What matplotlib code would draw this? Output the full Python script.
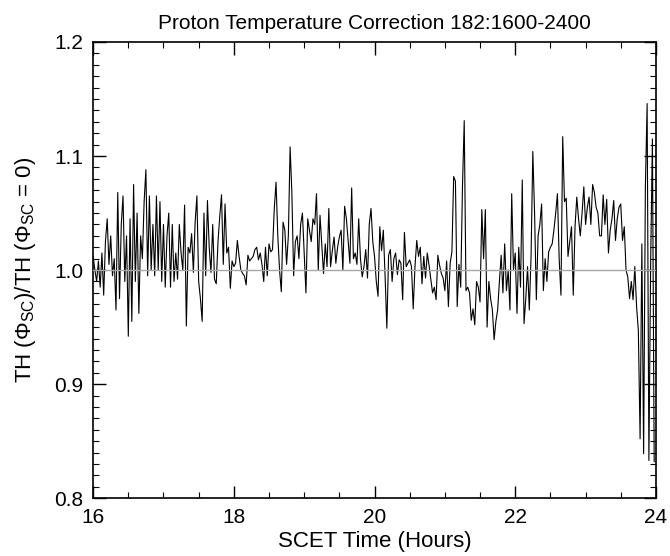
import numpy as np
import matplotlib
matplotlib.use("Agg")
import matplotlib.pyplot as plt
from matplotlib.ticker import MultipleLocator, FormatStrFormatter

plt.rcParams['font.family'] = ['Liberation Sans', 'DejaVu Sans']
plt.rcParams['mathtext.default'] = 'regular'

step = 0.025
seg_starts = [16.0, 17.225, 18.4, 19.65, 20.85, 22.075, 23.225]

seg_a = [1.012, 1.000, 0.990, 1.008, 0.985, 1.015, 0.978, 1.025, 1.045, 1.005,
         1.030, 0.995, 1.010, 0.965, 1.068, 0.975, 1.040, 1.065, 0.990, 1.030,
         0.942, 1.045, 0.955, 1.075, 0.990, 1.050, 0.962, 1.030, 1.010, 1.060,
         1.088, 0.995, 1.065, 1.000, 1.040, 0.995, 1.065, 1.000, 1.060, 0.990,
         1.040, 0.985, 1.030, 1.050, 0.985, 1.040, 0.990, 1.015, 0.992]
seg_b = [1.040, 1.015, 1.000, 1.057, 0.951, 1.020, 1.015, 1.032, 0.998, 1.042,
         1.065, 0.990, 0.975, 0.955, 1.050, 0.995, 1.061, 1.020, 0.998, 1.040,
         0.992, 0.988, 1.025, 1.047, 1.066, 1.005, 1.058, 1.015, 1.020, 0.984,
         1.008, 1.003, 1.006, 1.026, 1.012, 1.000, 0.997, 0.995, 0.987, 1.013,
         1.008, 1.010, 1.012, 1.018, 1.020, 1.009, 1.015]
seg_c = [1.005, 0.990, 1.020, 0.995, 1.023, 1.016, 1.018, 1.054, 1.077, 1.030,
         1.000, 0.981, 1.042, 1.035, 1.005, 1.030, 1.108, 1.068, 0.995, 1.025,
         1.030, 1.010, 1.040, 1.050, 1.015, 0.980, 1.045, 1.035, 1.025, 1.045,
         1.040, 1.067, 1.000, 1.048, 1.023, 0.997, 1.023, 1.003, 1.054, 1.003,
         1.017, 1.029, 1.006, 1.020, 1.029, 1.035, 1.000, 1.056, 1.045, 1.026]
seg_d = [1.006, 1.072, 1.010, 1.015, 1.005, 1.045, 1.010, 0.994, 1.003, 1.018,
         0.993, 1.040, 1.054, 1.025, 1.012, 0.990, 0.977, 1.038, 1.017, 1.035,
         0.995, 0.949, 1.013, 1.018, 0.990, 1.010, 1.015, 0.996, 1.009, 1.006,
         0.974, 1.033, 1.003, 1.006, 1.009, 1.003, 0.966, 1.003, 1.026, 1.012,
         1.020, 0.988, 1.012, 0.993, 1.015, 1.004, 0.992, 0.980]
seg_e = [0.985, 0.974, 1.013, 1.004, 0.997, 0.993, 0.982, 1.008, 0.968, 1.006,
         1.016, 1.082, 1.078, 0.968, 1.005, 0.985, 1.073, 1.131, 0.982, 0.985,
         0.980, 0.956, 0.966, 0.952, 0.990, 0.985, 0.972, 1.053, 1.010, 1.053,
         0.950, 0.990, 0.975, 0.965, 0.939, 0.955, 0.965, 0.990, 1.013, 0.980,
         1.023, 0.982, 1.000, 0.965, 1.067, 1.000, 1.015, 0.962, 1.020]
seg_f = [0.985, 1.079, 0.953, 0.975, 1.003, 0.965, 1.012, 1.104, 1.050, 0.974,
         1.030, 1.040, 1.058, 0.982, 1.010, 0.990, 1.016, 1.020, 1.023, 1.035,
         1.050, 1.067, 1.009, 0.978, 1.117, 1.060, 1.063, 1.012, 1.025, 1.038,
         0.978, 1.038, 1.064, 1.045, 1.030, 1.050, 1.073, 1.040, 1.055, 1.064,
         1.040, 1.075, 1.068, 1.055, 1.050, 1.030]
seg_g = [1.030, 1.066, 1.040, 1.062, 1.015, 1.035, 1.045, 1.061, 1.026, 1.045,
         1.055, 1.058, 1.026, 1.038, 1.000, 0.994, 0.975, 0.990, 0.974, 1.003,
         0.968, 0.947, 0.852, 1.023, 0.839, 1.073, 1.146, 0.833, 1.006, 1.115,
         0.832]

segments = [seg_a, seg_b, seg_c, seg_d, seg_e, seg_f, seg_g]
hours = np.concatenate([s0 + step * np.arange(len(s)) for s0, s in zip(seg_starts, segments)])
ratio = np.concatenate(segments)

fig = plt.figure(figsize=(6.7, 5.56), dpi=100)
ax = fig.add_axes([0.139, 0.104, 0.840, 0.8205])

ax.plot(hours, ratio, color='black', lw=0.8, zorder=2)
# reference level drawn over the trace
ax.axhline(1.0, color='#a8a8a8', lw=1.0, zorder=3)

ax.set_xlim(16, 24)
ax.set_ylim(0.8, 1.2)
ax.xaxis.set_major_locator(MultipleLocator(2))
ax.xaxis.set_minor_locator(MultipleLocator(0.5))
ax.yaxis.set_major_locator(MultipleLocator(0.1))
ax.yaxis.set_minor_locator(MultipleLocator(0.01))
ax.tick_params(which='both', direction='in', top=True, right=True, labelsize=15)
ax.tick_params(which='major', length=9, width=1)
ax.tick_params(which='minor', length=4, width=0.8)
ax.tick_params(axis='y', pad=7)
ax.tick_params(axis='x', pad=7)
ax.yaxis.set_major_formatter(FormatStrFormatter('%.1f'))
for sp in ax.spines.values():
    sp.set_linewidth(1.2)

ax.set_title('Proton Temperature Correction 182:1600-2400', fontsize=15, pad=9)
ax.set_xlabel('SCET Time (Hours)', fontsize=16, labelpad=3)
ax.set_ylabel('TH (Φ$_{SC}$)/TH (Φ$_{SC}$ = 0)', fontsize=16, labelpad=12)

fig.savefig('out.png', dpi=100)
